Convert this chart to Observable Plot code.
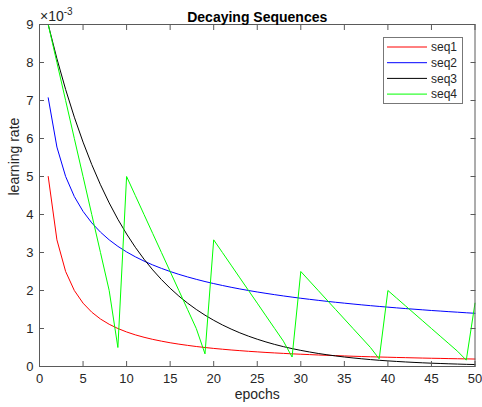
<!DOCTYPE html>
<html><head><meta charset="utf-8">
<script src="https://cdn.jsdelivr.net/npm/d3@7"></script>
<script src="https://cdn.jsdelivr.net/npm/@observablehq/plot@0.6"></script>
<style>body{margin:0;background:#fff}</style>
</head><body><div id="chart"></div>
<script>
const epochs = [1,2,3,4,5,6,7,8,9,10,11,12,13,14,15,16,17,18,19,20,21,22,23,24,25,26,27,28,29,30,31,32,33,34,35,36,37,38,39,40,41,42,43,44,45,46,47,48,49,50];
const seq1 = [5.0,3.333,2.5,2.0,1.667,1.429,1.25,1.111,1.0,0.909,0.833,0.769,0.714,0.667,0.625,0.588,0.556,0.526,0.5,0.476,0.455,0.435,0.417,0.4,0.385,0.37,0.357,0.345,0.333,0.323,0.313,0.303,0.294,0.286,0.278,0.27,0.263,0.256,0.25,0.244,0.238,0.233,0.227,0.222,0.217,0.213,0.208,0.204,0.2,0.196];
const seq2 = [7.071,5.774,5.0,4.472,4.082,3.78,3.536,3.333,3.162,3.015,2.887,2.774,2.673,2.582,2.5,2.425,2.357,2.294,2.236,2.182,2.132,2.085,2.041,2.0,1.961,1.925,1.89,1.857,1.826,1.796,1.768,1.741,1.715,1.69,1.667,1.644,1.622,1.601,1.581,1.562,1.543,1.525,1.508,1.491,1.474,1.459,1.443,1.429,1.414,1.4];
const seq3 = [9.0,8.1,7.29,6.561,5.905,5.314,4.783,4.305,3.874,3.487,3.138,2.824,2.542,2.288,2.059,1.853,1.668,1.501,1.351,1.216,1.094,0.985,0.886,0.798,0.718,0.646,0.581,0.523,0.471,0.424,0.382,0.343,0.309,0.278,0.25,0.225,0.203,0.182,0.164,0.148,0.133,0.12,0.108,0.097,0.087,0.079,0.071,0.064,0.057,0.052];
const seq4 = [9,8,7,6,5,4,3,2,0.5,5,4.5,4,3.5,3,2.5,2,1.5,1.0,0.333,3.333,3.0,2.667,2.333,2.0,1.667,1.333,1.0,0.667,0.25,2.5,2.25,2.0,1.75,1.5,1.25,1.0,0.75,0.5,0.2,2.0,1.8,1.6,1.4,1.2,1.0,0.8,0.6,0.4,0.167,1.667];
const seriesNames = ["seq1","seq2","seq3","seq4"];
const seriesColors = ["#ff0000","#0000ff","#000000","#00ff00"];
const xTicks = [0,5,10,15,20,25,30,35,40,45,50];
const yTicks = [0,1,2,3,4,5,6,7,8,9];
const titleText = "Decaying Sequences";
const xLabel = "epochs";
const yLabel = "learning rate";

const allSeries = [seq1, seq2, seq3, seq4];
const data = [];
allSeries.forEach((vals, i) => vals.forEach((v, j) => data.push({epoch: epochs[j], value: v, series: seriesNames[i]})));

const font = "'Liberation Sans', Arial, Helvetica, sans-serif";
const axisColor = "#5a5a5a";
const textColor = "#262626";

const chart = Plot.plot({
  width: 482, height: 407,
  marginLeft: 39, marginRight: 7.5, marginTop: 24, marginBottom: 41,
  style: {fontFamily: font, fontSize: "13px", color: textColor, background: "white", overflow: "visible"},
  x: {domain: [0, 50]},
  y: {domain: [0, 9]},
  color: {domain: seriesNames, range: seriesColors},
  marks: [
    Plot.line(data, {x: "epoch", y: "value", z: "series", stroke: "series", strokeWidth: 1}),
    Plot.frame({stroke: axisColor}),
    Plot.axisX(xTicks, {anchor: "bottom", tickSize: -5, tickPadding: 12, label: null, stroke: axisColor, fill: textColor, fontSize: 13}),
    Plot.axisX(xTicks, {anchor: "top", tickSize: -5, tickFormat: () => "", label: null, stroke: axisColor}),
    Plot.axisY(yTicks, {anchor: "left", tickSize: -5, tickPadding: 11, label: null, stroke: axisColor, fill: textColor, fontSize: 13}),
    Plot.axisY(yTicks, {anchor: "right", tickSize: -5, tickFormat: () => "", label: null, stroke: axisColor}),
    Plot.text([titleText], {frameAnchor: "top", dy: -12, fontWeight: "bold", fontSize: 14, fill: "#000"}),
    Plot.text([xLabel], {frameAnchor: "bottom", dy: 32, fontSize: 14, fill: textColor}),
    Plot.text([yLabel], {frameAnchor: "left", dx: -25, rotate: -90, fontSize: 14, fill: textColor})
  ]
});
document.getElementById("chart").appendChild(chart);

const svg = d3.select(chart);
// exponent label (x10^-3) above the y axis
const ex = svg.append("text").attr("x", 40).attr("y", 21).attr("font-family", font)
  .attr("font-size", 14).attr("fill", textColor).attr("text-anchor", "start");
ex.append("tspan").text("\u00d710");
ex.append("tspan").attr("font-size", 10).attr("dy", -6).text("-3");

// Legend (MATLAB-style box inside the axes, top-right)
const lg = svg.append("g").attr("font-family", font).attr("font-size", 12).attr("text-anchor", "start");
lg.append("rect").attr("x", 383.5).attr("y", 37.5).attr("width", 79).attr("height", 66)
  .attr("fill", "white").attr("stroke", "#777").attr("stroke-width", 1);
seriesNames.forEach((name, i) => {
  const yy = 47 + i * 15.7;
  lg.append("line").attr("x1", 387).attr("x2", 427).attr("y1", yy).attr("y2", yy)
    .attr("stroke", seriesColors[i]).attr("stroke-width", 1);
  lg.append("text").attr("x", 431).attr("y", yy).attr("dy", "0.35em").attr("fill", textColor).text(name);
});
</script>
</body></html>
